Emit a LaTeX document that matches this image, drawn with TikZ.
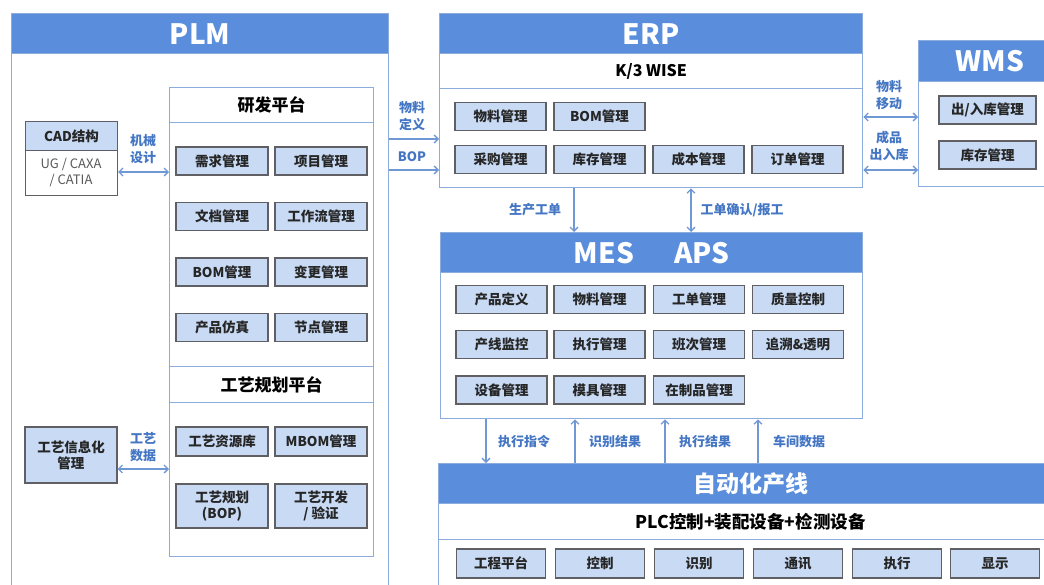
\documentclass[tikz,border=0pt]{standalone}
\usepackage{fontspec}
\setmainfont{Noto Sans CJK SC}
\usetikzlibrary{arrows.meta,positioning}
\definecolor{headblue}{RGB}{90,142,220}
\definecolor{panelline}{RGB}{140,172,222}
\definecolor{modfill}{RGB}{200,218,244}
\definecolor{modline}{RGB}{95,95,100}
\definecolor{linkblue}{RGB}{112,152,212}
\definecolor{lblblue}{RGB}{68,118,196}
\tikzset{
  panel/.style={draw=panelline, line width=1.3pt, fill=white, anchor=north west, inner sep=0pt},
  headbar/.style={draw=panelline, line width=1.3pt, fill=headblue, anchor=north west, inner sep=0pt, minimum height=40pt, text=white, font=\fontsize{28}{30}\selectfont\bfseries},
  band/.style={draw=panelline, line width=1.3pt, anchor=north west, inner sep=0pt, font=\fontsize{17}{20}\selectfont\bfseries},
  module/.style={draw=modline, fill=modfill, line width=1.1pt, inner sep=0pt, align=center, minimum width=91pt, minimum height=28pt, text=black!85, font=\fontsize{13.5}{16}\selectfont\bfseries},
  lbl/.style={align=center, inner sep=0pt, text=lblblue, font=\fontsize{13}{17}\selectfont\bfseries},
  link/.style={-{Straight Barb[length=4pt,width=8pt]}, linkblue, line width=1.3pt},
  dlink/.style={{Straight Barb[length=4pt,width=8pt]}-{Straight Barb[length=4pt,width=8pt]}, linkblue, line width=1.3pt}
}
\begin{document}
\begin{tikzpicture}[x=1pt,y=-1pt]
  \useasboundingbox (0,0) rectangle (1044,584);

  % PLM
  \node[panel, minimum width=377pt, minimum height=580pt] (plm) at (11,13) {};
  \node[headbar, minimum width=377pt] (plmhead) at (11,13) {PLM};
  \node[panel, draw=modline, line width=1.1pt, minimum width=92pt, minimum height=74pt] (cad) at (25,121) {};
  \node[module, anchor=north west, minimum width=92pt, minimum height=29pt] (cadhead) at (25,121) {CAD结构};
  \node[align=center, text=black!65, font=\fontsize{13}{16}\selectfont] (cadsw) at (71,172) {UG / CAXA\\/ CATIA};
  \node[module, minimum width=92pt, minimum height=56pt] (gyxx) at (71,455) {工艺信息化\\管理};

  \node[panel, minimum width=204pt, minimum height=469pt] (dev) at (169,87) {};
  \node[band, minimum width=204pt, minimum height=35pt] (devhead) at (169,87) {研发平台};
  \node[band, minimum width=204pt, minimum height=36pt] (prochead) at (169,366) {工艺规划平台};
  \node[module, minimum width=92pt] (xqgl) at (222,161) {需求管理};
  \node[module, minimum width=92pt] (xmgl) at (321,161) {项目管理};
  \node[module, minimum width=92pt] (wdgl) at (222,216.5) {文档管理};
  \node[module, minimum width=92pt] (gzlgl) at (321,216.5) {工作流管理};
  \node[module, minimum width=92pt] (bomgl) at (222,272) {BOM管理};
  \node[module, minimum width=92pt] (bggl) at (321,272) {变更管理};
  \node[module, minimum width=92pt] (cpfz) at (222,327.5) {产品仿真};
  \node[module, minimum width=92pt] (jdgl) at (321,327.5) {节点管理};
  \node[module, minimum width=92pt, minimum height=29pt] (gyzyk) at (222,441.5) {工艺资源库};
  \node[module, minimum width=92pt, minimum height=29pt] (mbom) at (321,441.5) {MBOM管理};
  \node[module, minimum width=92pt, minimum height=44pt] (gygh) at (222,506) {工艺规划\\(BOP)};
  \node[module, minimum width=92pt, minimum height=44pt] (gykf) at (321,506) {工艺开发\\/ 验证};

  \draw[dlink] (cad.east |- 0,172) -- (dev.west |- 0,172);
  \node[lbl] (lbjx) at (143,149) {机械\\设计};
  \draw[dlink] (gyxx.east |- 0,469) -- (dev.west |- 0,469);
  \node[lbl] (lbgy) at (143,447) {工艺\\数据};

  % ERP
  \node[panel, minimum width=423pt, minimum height=174pt] (erp) at (439,13) {};
  \node[headbar, minimum width=423pt] (erphead) at (439,13) {ERP};
  \node[band, minimum width=423pt, minimum height=35pt, font=\fontsize{16}{18}\selectfont\bfseries] (k3) at (439,53) {K/3 WISE};
  \node[module] (wlgl) at (500.5,116.5) {物料管理};
  \node[module] (erpbom) at (599.5,116.5) {BOM管理};
  \node[module] (cggl) at (500.5,159.5) {采购管理};
  \node[module] (kcgl) at (599.5,159.5) {库存管理};
  \node[module] (cbgl) at (698.5,159.5) {成本管理};
  \node[module] (ddgl) at (797.5,159.5) {订单管理};

  \draw[link] (plm.east |- 0,139) -- (erp.west |- 0,139);
  \draw[link] (plm.east |- 0,170) -- (erp.west |- 0,170);
  \node[lbl] (lbwl) at (412,116) {物料\\定义};
  \node[lbl] (lbbop) at (412,157) {BOP};

  % WMS
  \node[panel, minimum width=142pt, minimum height=146pt] (wms) at (918,40) {};
  \node[headbar, minimum width=142pt, minimum height=41pt] (wmshead) at (918,40) {WMS};
  \node[module, minimum width=97pt] (crk) at (987.5,110) {出/入库管理};
  \node[module, minimum width=97pt] (wmskc) at (987.5,155) {库存管理};
  \draw[dlink] (erp.east |- 0,117) -- (wms.west |- 0,117);
  \draw[dlink] (erp.east |- 0,170) -- (wms.west |- 0,170);
  \node[lbl] (lbyd) at (889,95) {物料\\移动};
  \node[lbl] (lbcp) at (889,146) {成品\\出入库};

  % MES / APS
  \node[panel, minimum width=422pt, minimum height=186pt] (mes) at (440,232) {};
  \node[headbar, minimum width=422pt] (meshead) at (440,232) {MES\hspace{40pt}APS};
  \node[module] (cpdy) at (501.5,299.5) {产品定义};
  \node[module] (meswl) at (599.5,299.5) {物料管理};
  \node[module] (gdgl) at (699,299.5) {工单管理};
  \node[module] (zlkz) at (798,299.5) {质量控制};
  \node[module] (cxjk) at (501.5,344.5) {产线监控};
  \node[module] (zxgl) at (599.5,344.5) {执行管理};
  \node[module] (bcgl) at (699,344.5) {班次管理};
  \node[module] (zstm) at (798,344.5) {追溯\&透明};
  \node[module] (sbgl) at (501.5,390) {设备管理};
  \node[module] (mjgl) at (599.5,390) {模具管理};
  \node[module] (zzp) at (699,390) {在制品管理};

  \draw[link] (erp.south -| 574,0) -- (mes.north -| 574,0);
  \draw[dlink] (erp.south -| 691,0) -- (mes.north -| 691,0);
  \node[lbl] (lbscgd) at (535,210) {生产工单};
  \node[lbl] (lbgdqr) at (742,210) {工单确认/报工};

  % 自动化产线
  \node[panel, minimum width=624pt, minimum height=140pt] (auto) at (438,463) {};
  \node[headbar, minimum width=624pt, font=\fontsize{23}{26}\selectfont\bfseries] (autohead) at (438,463) {自动化产线};
  \node[band, minimum width=624pt, minimum height=36pt, font=\fontsize{17.5}{20}\selectfont\bfseries] (plc) at (438,503) {PLC控制+装配设备+检测设备};
  \foreach \cx/\nm/\txt in {501/gcpt/工程平台, 600/kz/控制, 699/sb/识别, 798/tx/通讯, 897/zx/执行, 995/xs/显示}
    \node[module, minimum width=89pt, minimum height=29pt] (\nm) at (\cx,563.5) {\txt};

  \draw[link] (mes.south -| 486,0) -- (auto.north -| 486,0);
  \draw[link] (auto.north -| 575,0) -- (mes.south -| 575,0);
  \draw[link] (auto.north -| 665,0) -- (mes.south -| 665,0);
  \draw[link] (auto.north -| 758,0) -- (mes.south -| 758,0);
  \node[lbl] (lbzxzl) at (524,442) {执行指令};
  \node[lbl] (lbsbjg) at (615,442) {识别结果};
  \node[lbl] (lbzxjg) at (705,442) {执行结果};
  \node[lbl] (lbcjsj) at (799,442) {车间数据};
\end{tikzpicture}
\end{document}
